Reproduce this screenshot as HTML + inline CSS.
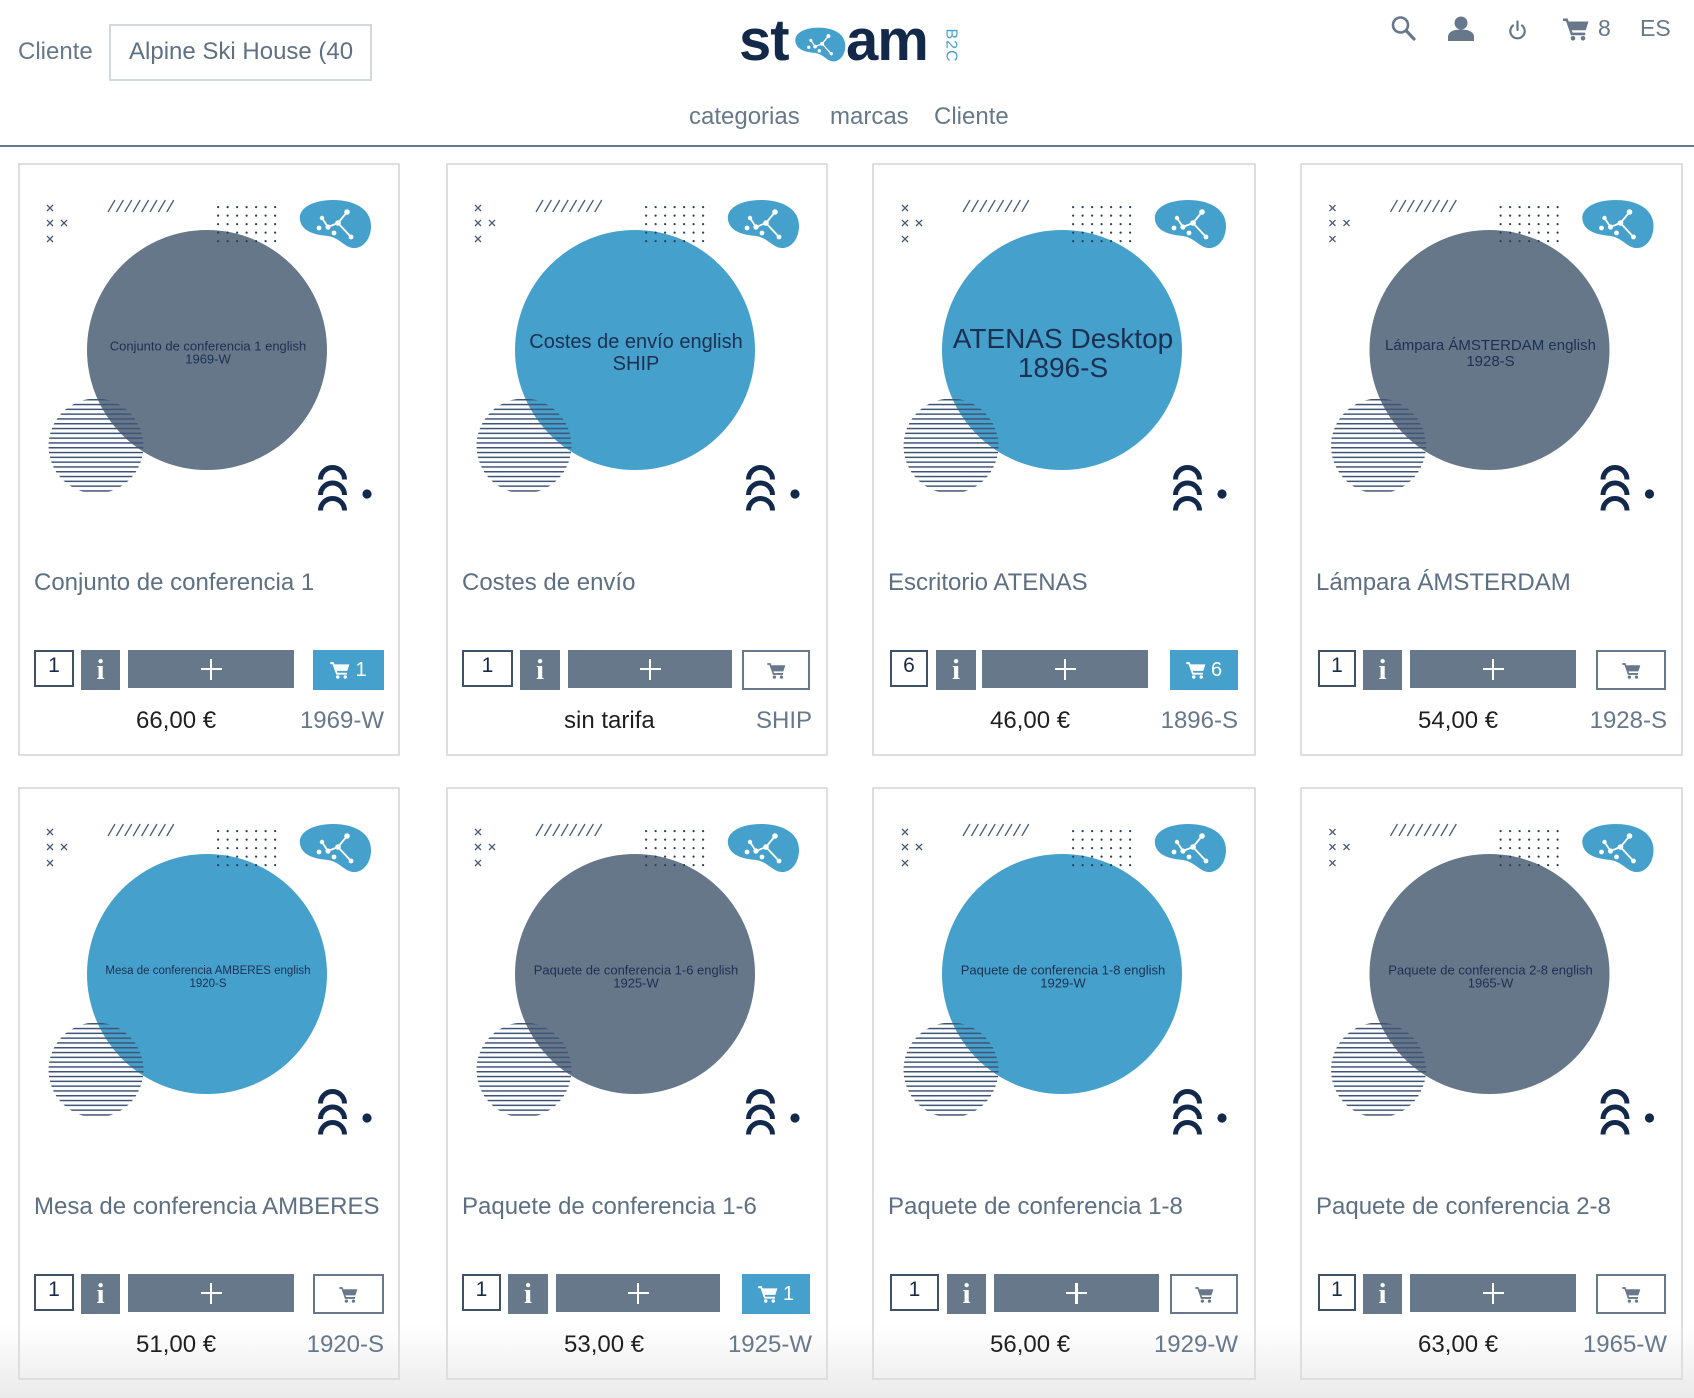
<!DOCTYPE html>
<html><head><meta charset="utf-8">
<style>
*{margin:0;padding:0}
html,body{width:1694px;height:1398px;overflow:hidden;background:#fff;font-family:"Liberation Sans",sans-serif;position:relative}
.abs{position:absolute}
.hdr{position:absolute;font-size:24px;line-height:30px;color:#66788a;white-space:nowrap}
.card{position:absolute;height:593px;box-shadow:inset 0 0 0 2px #dedede;background:transparent}
.im{position:absolute;left:0;top:0}
.t{position:absolute;left:16px;top:405px;font-size:24px;line-height:30px;color:#5d6f83;white-space:nowrap}
.q{position:absolute;top:487px;height:37px;box-sizing:border-box;border:2px solid #3f5167;text-align:center;font-size:21px;line-height:27px;color:#1a2b45;background:#fff}
.i{position:absolute;top:487px;height:40px;background:#66788a;color:#fff;font:bold 29px/40px "Liberation Serif",serif;text-align:center}
.p{position:absolute;top:487px;height:38px;background:#66788a}
.p::before{content:"";position:absolute;left:50%;top:50%;width:21px;height:2.6px;margin-left:-10.5px;margin-top:-1.3px;background:#fff}
.p::after{content:"";position:absolute;left:50%;top:50%;width:2.6px;height:21px;margin-left:-1.3px;margin-top:-10.5px;background:#fff}
.c{position:absolute;top:487px;height:40px;box-sizing:border-box;display:flex;align-items:center;justify-content:center;gap:5px}
.cf{background:#45a1cc;color:#fff;font-size:20px}
.co{border:2px solid #66788a;background:#fff}
.pr{position:absolute;left:118px;top:543px;font-size:24px;line-height:30px;color:#1f1f1f;white-space:nowrap}
.cd{position:absolute;right:16px;top:543px;font-size:24px;line-height:30px;color:#66788a;white-space:nowrap}
.ct{font-family:"Liberation Sans",sans-serif;fill:#1c3052;text-anchor:middle}
</style></head><body>

<!-- bottom fade -->
<div class="abs" style="left:0;top:1325px;width:1694px;height:73px;background:linear-gradient(to bottom,rgba(234,234,234,0),rgba(234,234,234,1))"></div>

<svg width="0" height="0" style="position:absolute">
<defs>
<pattern id="dp" x="199" y="43" width="9.5" height="8.5" patternUnits="userSpaceOnUse"><circle cx="1.1" cy="1.1" r="1.1" fill="#2c3e5a"/></pattern>
<pattern id="lp" x="0" y="236" width="10" height="4.8" patternUnits="userSpaceOnUse"><rect x="0" y="0" width="10" height="1.5" fill="#3f5476"/></pattern>
<symbol id="cart" viewBox="0 0 26 24"><path d="M0 1.5H4.6L5.7 4.5H25.5L22.7 13.2H8.6L9.6 15.6H22.2V18.2H8L3 4.1H0Z"/><circle cx="10" cy="21.3" r="2.3"/><circle cx="20" cy="21.3" r="2.3"/></symbol>
<symbol id="blob" viewBox="0 0 74 52"><path d="M2 22C0 10 15 2 35 2C55 2 73 10 73 28C73 42 64 51 55 50C46 49 42 40 30 38C18 37 4 34 2 22Z" fill="#45a1cc"/><g stroke="#fff" stroke-width="1.8" fill="none"><path d="M24 20L30 29L40 25L49 14M40 25L53 39"/></g><g fill="#fff"><circle cx="21" cy="30" r="2.4"/><circle cx="24" cy="20" r="2.2"/><circle cx="30" cy="29" r="2.6"/><circle cx="36" cy="35" r="2.4"/><circle cx="40" cy="25" r="2.8"/><circle cx="49" cy="14" r="2.8"/><circle cx="53" cy="39" r="2.4"/></g></symbol>
<symbol id="deco" viewBox="0 0 382 380">
<g stroke="#4a5d78" stroke-width="1.3" fill="none">
<path d="M29 42l6 6M35 42l-6 6M29 57l6 6M35 57l-6 6M43 57l6 6M49 57l-6 6M29 73l6 6M35 73l-6 6"/>
<path d="M90 49L97 37M98.4 49L105.4 37M106.8 49L113.8 37M115.2 49L122.2 37M123.6 49L130.6 37M132 49L139 37M140.4 49L147.4 37M148.8 49L155.8 37"/>
</g>
<rect x="199" y="43" width="66" height="42" fill="url(#dp)"/>
<circle cx="78" cy="283" r="47.5" fill="url(#lp)"/>
<use href="#blob" x="280" y="35" width="74" height="52"/>
<g stroke="#13294b" stroke-width="5" fill="none"><path d="M302.5 316.5A12 12 0 0 1 326.5 316.5M302.5 332A12 12 0 0 1 326.5 332M302.5 347.5A12 12 0 0 1 326.5 347.5"/></g>
<circle cx="349" cy="331" r="4.6" fill="#13294b"/>
</symbol>
</defs>
</svg>

<!-- HEADER -->
<div class="hdr" style="left:18px;top:37px">Cliente</div>
<div class="abs" style="left:109px;top:24px;width:263px;height:57px;box-sizing:border-box;border:2px solid #d3d8dd"></div>
<div class="abs" style="left:129px;top:35px;width:224px;height:34px;overflow:hidden">
  <div class="hdr" style="left:0;top:2px;color:#5f7083">Alpine Ski House (4000)</div>
</div>

<div class="abs" style="left:739px;top:12px;font-size:58px;line-height:58px;font-weight:bold;color:#12294a;letter-spacing:-1px">st</div>
<svg class="abs" style="left:794px;top:26px" width="52" height="37" viewBox="0 0 74 52"><use href="#blob" x="0" y="0" width="74" height="52"/></svg>
<div class="abs" style="left:846px;top:12px;font-size:58px;line-height:58px;font-weight:bold;color:#12294a;letter-spacing:-1px">am</div>
<div class="abs" style="left:933px;top:37px;width:36px;height:17px;font-size:16px;line-height:17px;color:#45a1cc;transform:rotate(90deg);transform-origin:50% 50%;text-align:center;letter-spacing:1px">B2C</div>

<svg class="abs" style="left:1380px;top:0" width="230" height="60" viewBox="0 0 230 60">
 <g fill="none" stroke="#66788a" stroke-linecap="round">
  <circle cx="20.5" cy="25" r="7.5" stroke-width="2.6"/>
  <path d="M26 30.5L34 39" stroke-width="3.2"/>
  <path d="M133 25.5A7.2 7.2 0 1 0 142 25.5" stroke-width="2.2"/>
  <path d="M137.5 21.5V30" stroke-width="2.2"/>
 </g>
 <g fill="#66788a">
  <circle cx="81" cy="23" r="6.5"/>
  <path d="M68 41V37C68 31.5 74 29.5 81 29.5C88 29.5 94 31.5 94 37V41Z"/>
  <use href="#cart" x="183" y="17" width="26" height="24"/>
 </g>
</svg>
<div class="hdr" style="left:1598px;top:13px;font-size:23px">8</div>
<div class="hdr" style="left:1640px;top:13px;font-size:23px">ES</div>

<div class="hdr" style="left:689px;top:102px">categorias</div>
<div class="hdr" style="left:830px;top:102px">marcas</div>
<div class="hdr" style="left:934px;top:102px">Cliente</div>

<div class="abs" style="left:0;top:145px;width:1694px;height:2px;background:#66788a"></div>

<!-- ROW 1 -->
<div class="card" style="left:18px;top:163px;width:382px">
 <svg class="im" width="382" height="380" viewBox="0 0 382 380"><circle cx="189" cy="187" r="120" fill="#66778a"/><use href="#deco" width="382" height="380"/>
 <text class="ct" x="190" y="187.5" font-size="13">Conjunto de conferencia 1 english</text><text class="ct" x="190" y="200.5" font-size="13">1969-W</text></svg>
 <div class="t">Conjunto de conferencia 1</div>
 <div class="q" style="left:16px;width:40px">1</div>
 <div class="i" style="left:63px;width:39px">i</div>
 <div class="p" style="left:110px;width:166px"></div>
 <div class="c cf" style="left:295px;width:71px"><svg width="20" height="18" fill="#fff"><use href="#cart" width="20" height="18"/></svg><span>1</span></div>
 <div class="pr">66,00 €</div><div class="cd">1969-W</div>
</div>

<div class="card" style="left:446px;top:163px;width:382px">
 <svg class="im" width="382" height="380" viewBox="0 0 382 380"><circle cx="189" cy="187" r="120" fill="#45a1cc"/><use href="#deco" width="382" height="380"/>
 <text class="ct" x="190" y="185" font-size="20">Costes de envío english</text><text class="ct" x="190" y="207" font-size="20">SHIP</text></svg>
 <div class="t">Costes de envío</div>
 <div class="q" style="left:16px;width:51px">1</div>
 <div class="i" style="left:74px;width:40px">i</div>
 <div class="p" style="left:122px;width:164px"></div>
 <div class="c co" style="left:296px;width:68px"><svg width="19" height="17" fill="#66788a"><use href="#cart" width="19" height="17"/></svg></div>
 <div class="pr">sin tarifa</div><div class="cd">SHIP</div>
</div>

<div class="card" style="left:872px;top:163px;width:384px">
 <svg class="im" width="384" height="380" viewBox="0 0 382 380"><circle cx="189" cy="187" r="120" fill="#45a1cc"/><use href="#deco" width="382" height="380"/>
 <text class="ct" x="190" y="185" font-size="28">ATENAS Desktop</text><text class="ct" x="190" y="214" font-size="28">1896-S</text></svg>
 <div class="t">Escritorio ATENAS</div>
 <div class="q" style="left:18px;width:38px">6</div>
 <div class="i" style="left:64px;width:40px">i</div>
 <div class="p" style="left:110px;width:166px"></div>
 <div class="c cf" style="left:298px;width:68px"><svg width="20" height="18" fill="#fff"><use href="#cart" width="20" height="18"/></svg><span>6</span></div>
 <div class="pr">46,00 €</div><div class="cd" style="right:18px">1896-S</div>
</div>

<div class="card" style="left:1300px;top:163px;width:383px">
 <svg class="im" width="383" height="380" viewBox="0 0 382 380"><circle cx="189" cy="187" r="120" fill="#66778a"/><use href="#deco" width="382" height="380"/>
 <text class="ct" x="190" y="187" font-size="15">Lámpara ÁMSTERDAM english</text><text class="ct" x="190" y="203" font-size="15">1928-S</text></svg>
 <div class="t">Lámpara ÁMSTERDAM</div>
 <div class="q" style="left:18px;width:38px">1</div>
 <div class="i" style="left:63px;width:39px">i</div>
 <div class="p" style="left:110px;width:166px"></div>
 <div class="c co" style="left:296px;width:70px"><svg width="19" height="17" fill="#66788a"><use href="#cart" width="19" height="17"/></svg></div>
 <div class="pr">54,00 €</div><div class="cd">1928-S</div>
</div>

<!-- ROW 2 -->
<div class="card" style="left:18px;top:787px;width:382px">
 <svg class="im" width="382" height="380" viewBox="0 0 382 380"><circle cx="189" cy="187" r="120" fill="#45a1cc"/><use href="#deco" width="382" height="380"/>
 <text class="ct" x="190" y="187" font-size="11.5">Mesa de conferencia AMBERES english</text><text class="ct" x="190" y="200" font-size="11.5">1920-S</text></svg>
 <div class="t">Mesa de conferencia AMBERES</div>
 <div class="q" style="left:16px;width:40px">1</div>
 <div class="i" style="left:63px;width:39px">i</div>
 <div class="p" style="left:110px;width:166px"></div>
 <div class="c co" style="left:295px;width:71px"><svg width="19" height="17" fill="#66788a"><use href="#cart" width="19" height="17"/></svg></div>
 <div class="pr">51,00 €</div><div class="cd">1920-S</div>
</div>

<div class="card" style="left:446px;top:787px;width:382px">
 <svg class="im" width="382" height="380" viewBox="0 0 382 380"><circle cx="189" cy="187" r="120" fill="#66778a"/><use href="#deco" width="382" height="380"/>
 <text class="ct" x="190" y="187.5" font-size="13">Paquete de conferencia 1-6 english</text><text class="ct" x="190" y="200.5" font-size="13">1925-W</text></svg>
 <div class="t">Paquete de conferencia 1-6</div>
 <div class="q" style="left:16px;width:39px">1</div>
 <div class="i" style="left:62px;width:40px">i</div>
 <div class="p" style="left:110px;width:164px"></div>
 <div class="c cf" style="left:296px;width:68px"><svg width="20" height="18" fill="#fff"><use href="#cart" width="20" height="18"/></svg><span>1</span></div>
 <div class="pr">53,00 €</div><div class="cd">1925-W</div>
</div>

<div class="card" style="left:872px;top:787px;width:384px">
 <svg class="im" width="384" height="380" viewBox="0 0 382 380"><circle cx="189" cy="187" r="120" fill="#45a1cc"/><use href="#deco" width="382" height="380"/>
 <text class="ct" x="190" y="187.5" font-size="13">Paquete de conferencia 1-8 english</text><text class="ct" x="190" y="200.5" font-size="13">1929-W</text></svg>
 <div class="t">Paquete de conferencia 1-8</div>
 <div class="q" style="left:18px;width:49px">1</div>
 <div class="i" style="left:75px;width:39px">i</div>
 <div class="p" style="left:122px;width:165px"></div>
 <div class="c co" style="left:298px;width:68px"><svg width="19" height="17" fill="#66788a"><use href="#cart" width="19" height="17"/></svg></div>
 <div class="pr">56,00 €</div><div class="cd" style="right:18px">1929-W</div>
</div>

<div class="card" style="left:1300px;top:787px;width:383px">
 <svg class="im" width="383" height="380" viewBox="0 0 382 380"><circle cx="189" cy="187" r="120" fill="#66778a"/><use href="#deco" width="382" height="380"/>
 <text class="ct" x="190" y="187.5" font-size="13">Paquete de conferencia 2-8 english</text><text class="ct" x="190" y="200.5" font-size="13">1965-W</text></svg>
 <div class="t">Paquete de conferencia 2-8</div>
 <div class="q" style="left:18px;width:38px">1</div>
 <div class="i" style="left:63px;width:39px">i</div>
 <div class="p" style="left:110px;width:166px"></div>
 <div class="c co" style="left:296px;width:70px"><svg width="19" height="17" fill="#66788a"><use href="#cart" width="19" height="17"/></svg></div>
 <div class="pr">63,00 €</div><div class="cd">1965-W</div>
</div>

</body></html>
